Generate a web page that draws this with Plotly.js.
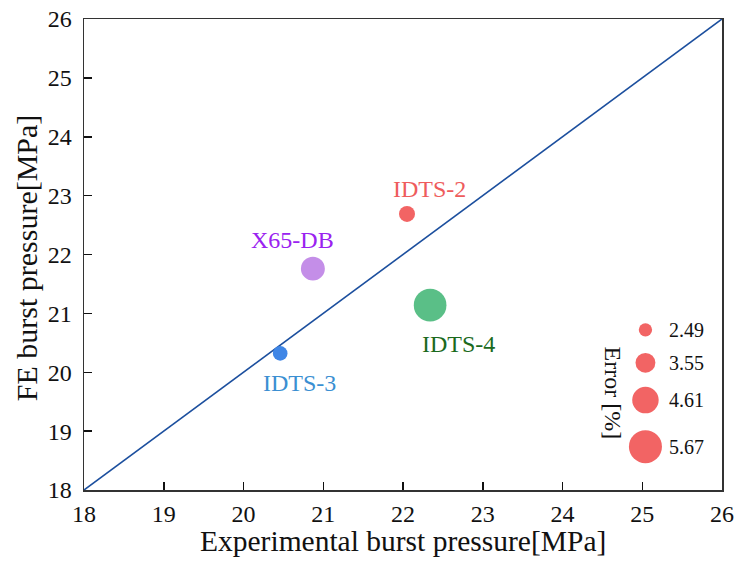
<!DOCTYPE html>
<html>
<head>
<meta charset="utf-8">
<script src="https://cdn.plot.ly/plotly-3.0.1.min.js"></script>
<style>
  html, body { margin: 0; padding: 0; background: #ffffff; }
  #chart { width: 736px; height: 563px; }
</style>
</head>
<body>
<div id="chart"></div>
<script>
// Specimens: experimental vs. finite-element burst pressure (MPa)
const specimens   = ['IDTS-2', 'X65-DB', 'IDTS-4', 'IDTS-3'];
const expPressure = [22.05, 20.87, 22.34, 20.46];
const fePressure  = [22.69, 21.76, 21.14, 20.32];
const errorPct    = [2.92, 4.20, 5.60, 2.70];

// Bubble-size key values
const keyErrors = [2.49, 3.55, 4.61, 5.67];

// Axis ticks
const tickVals = [18, 19, 20, 21, 22, 23, 24, 25, 26];

const xTitle = 'Experimental burst pressure[MPa]';
const yTitle = 'FE burst pressure[MPa]';

const markerColors = ['#f26464', '#c48ee8', '#5abf87', '#3f86e6'];
const labelColors  = ['#ee5c5c', '#9a22f0', '#1b6a1d', '#3b8fd2'];
const labelShift   = [[23, 25], [-20, 29], [28, -39], [19, -30]];

const FONT = 'Liberation Serif';

// bubble diameter (px) as a linear function of the error
const bubble = e => 6.2 * e - 2.1;

const traces = [
  {
    // 1:1 reference line
    x: [tickVals[0], tickVals[tickVals.length - 1]],
    y: [tickVals[0], tickVals[tickVals.length - 1]],
    mode: 'lines',
    line: { color: '#1c4f9e', width: 1.6 },
    hoverinfo: 'skip',
    showlegend: false
  },
  {
    x: expPressure,
    y: fePressure,
    text: specimens,
    mode: 'markers',
    marker: {
      size: errorPct.map(bubble),
      sizemode: 'diameter',
      color: markerColors,
      opacity: 1,
      line: { width: 0 }
    },
    showlegend: false
  },
  {
    // size key drawn on an overlay axis spanning the plot area 0..1
    x: keyErrors.map(() => 0.880),
    y: [0.340, 0.270, 0.191, 0.092],
    xaxis: 'x2',
    yaxis: 'y2',
    mode: 'markers',
    marker: {
      size: keyErrors.map(bubble),
      sizemode: 'diameter',
      color: '#f26464',
      opacity: 1,
      line: { width: 0 }
    },
    hoverinfo: 'skip',
    showlegend: false
  }
];

const annotations = specimens.map((name, i) => ({
  x: expPressure[i],
  y: fePressure[i],
  xref: 'x', yref: 'y',
  text: name,
  showarrow: false,
  xshift: labelShift[i][0],
  yshift: labelShift[i][1],
  font: { family: FONT, size: 24, color: labelColors[i] }
}));

const keyY = [0.340, 0.270, 0.191, 0.092];
keyErrors.forEach((v, i) => {
  annotations.push({
    x: 0.914, y: keyY[i], xref: 'x2', yref: 'y2',
    text: v.toFixed(2), showarrow: false, xanchor: 'left',
    font: { family: FONT, size: 20, color: '#111111' }
  });
});
annotations.push({
  x: 0.829, y: 0.205, xref: 'x2', yref: 'y2',
  text: 'Error [%]', showarrow: false, textangle: 90,
  font: { family: FONT, size: 24, color: '#111111' }
});

// axis titles
annotations.push({
  x: 0.5, y: -0.108, xref: 'paper', yref: 'paper',
  xanchor: 'center', yanchor: 'middle',
  text: xTitle, showarrow: false,
  font: { family: FONT, size: 29.5, color: '#111111' }
});
annotations.push({
  x: -0.091, y: 0.494, xref: 'paper', yref: 'paper',
  xanchor: 'center', yanchor: 'middle',
  text: yTitle, showarrow: false, textangle: -90,
  font: { family: FONT, size: 30, color: '#111111' }
});

function axis(extra) {
  return Object.assign({
    range: [18, 26],
    tickvals: tickVals,
    ticks: 'inside',
    ticklen: 8,
    tickwidth: 1.5,
    tickcolor: '#111111',
    showline: true,
    linecolor: '#333333',
    linewidth: 1.5,
    mirror: true,
    showgrid: false,
    zeroline: false,
    tickfont: { family: FONT, size: 24, color: '#111111' }
  }, extra);
}

const layout = {
  width: 736,
  height: 563,
  margin: { l: 84, r: 14, t: 19, b: 73 },
  font: { family: FONT, color: '#111111' },
  paper_bgcolor: '#ffffff',
  plot_bgcolor: '#ffffff',
  showlegend: false,
  xaxis: axis({ ticklabelstandoff: 2 }),
  yaxis: axis({ ticklabelstandoff: 6 }),
  xaxis2: { overlaying: 'x', range: [0, 1], visible: false, fixedrange: true },
  yaxis2: { overlaying: 'y', range: [0, 1], visible: false, fixedrange: true },
  annotations: annotations
};

Plotly.newPlot('chart', traces, layout, { displayModeBar: false, staticPlot: true });
</script>
</body>
</html>
